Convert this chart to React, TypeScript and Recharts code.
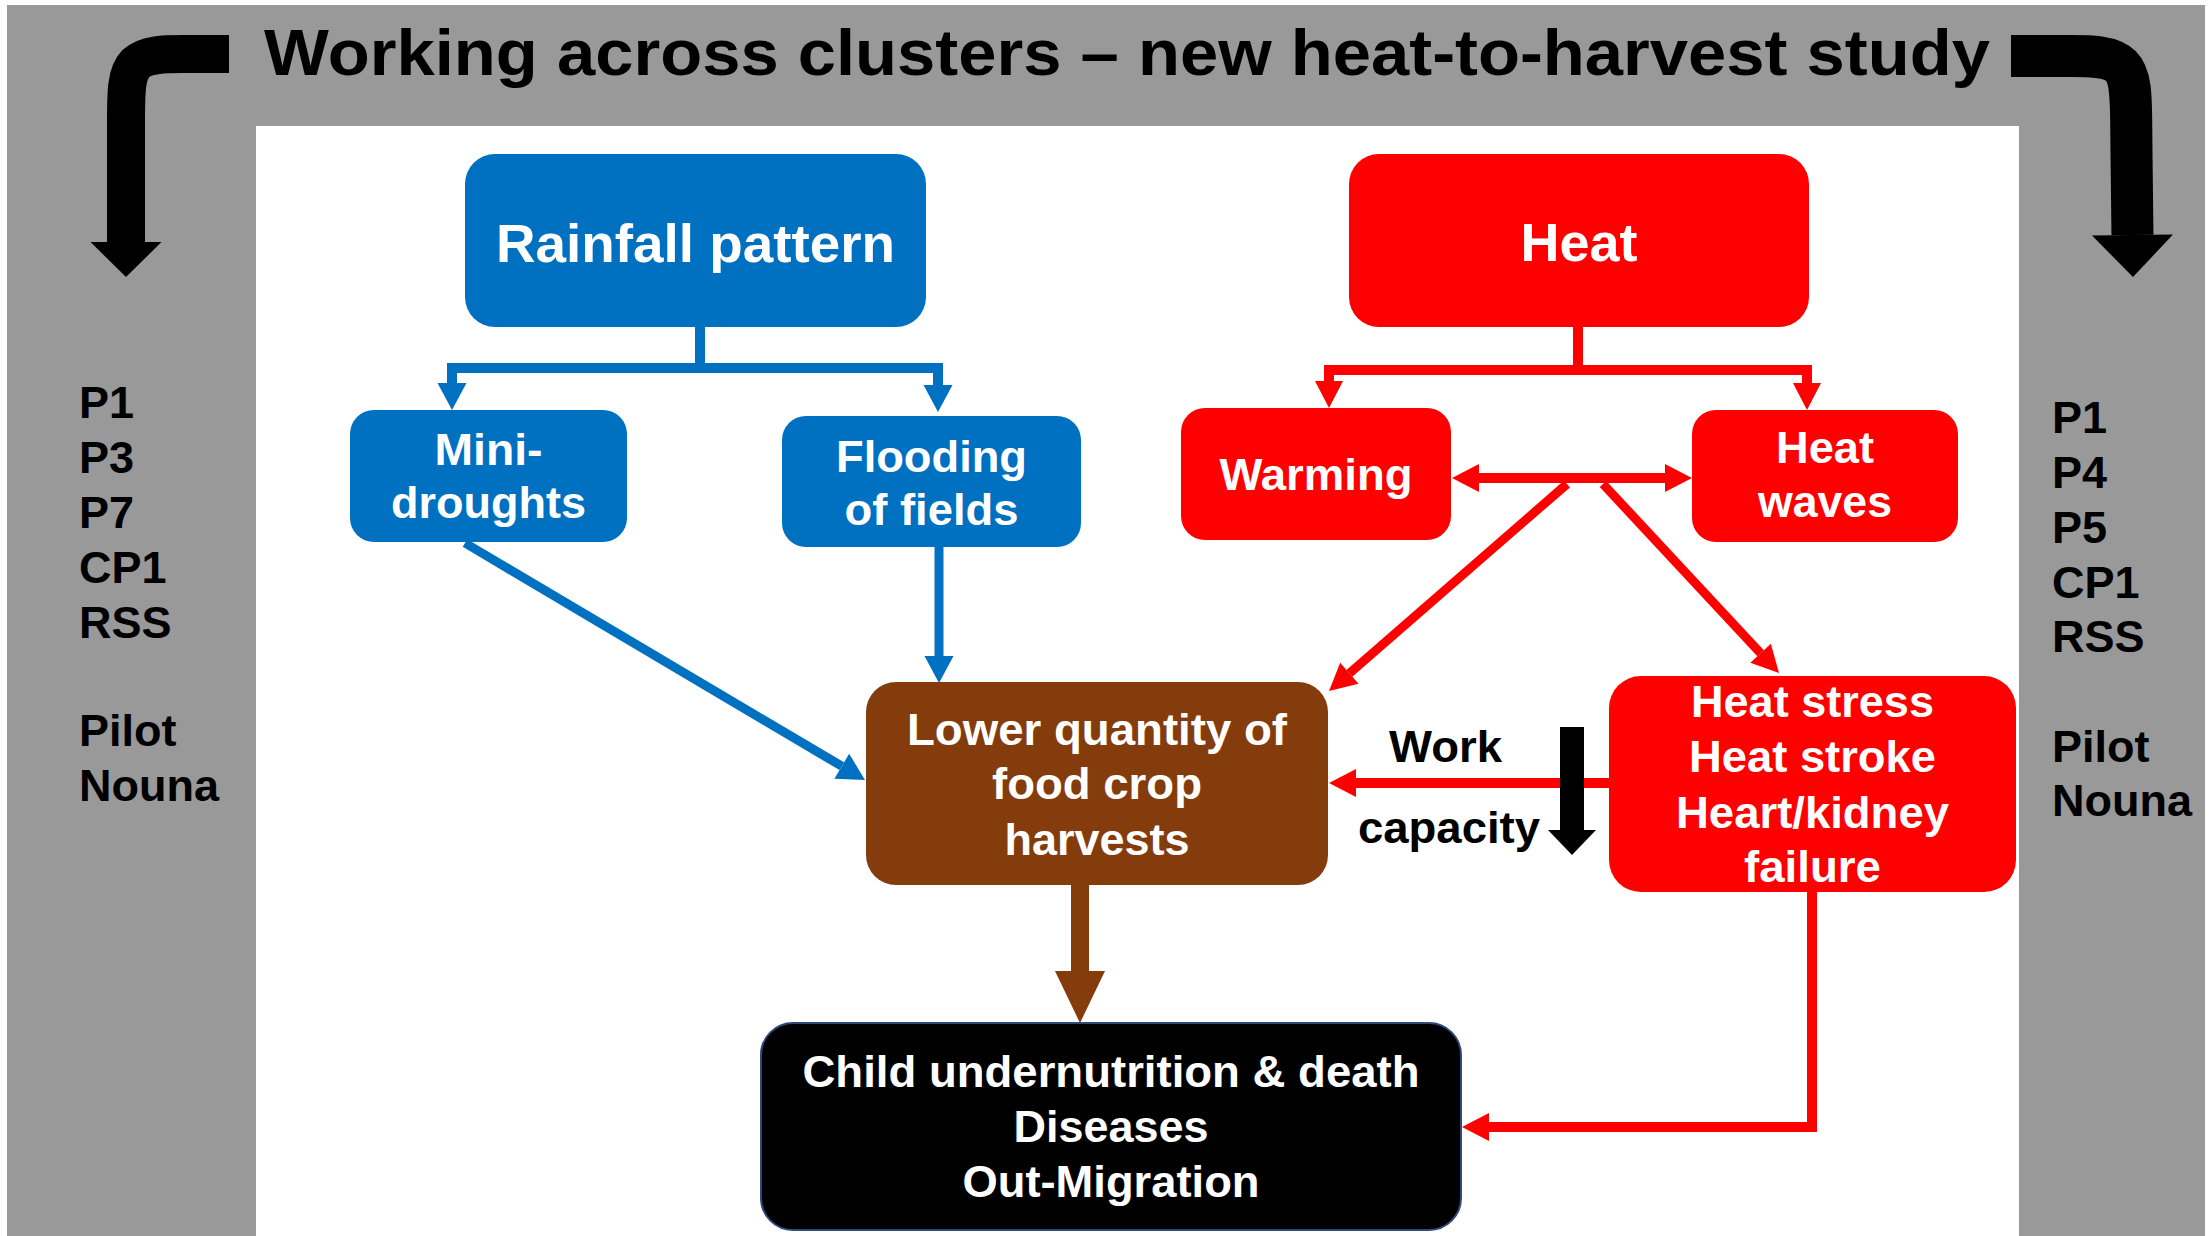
import React from 'react';
import { ComposedChart, XAxis, YAxis, ReferenceArea, Line, Scatter } from 'recharts';

const W = 2211;
const H = 1236;

// ---- frame (slide background + white panel), diagram units = px ----
const frameIds = ['slide', 'panel'];
const frameX1 = [7, 256];
const frameX2 = [2205, 2019];
const frameY1 = [5, 126];
const frameY2 = [1236, 1236];

// ---- nodes ----
const nodeIds = ['rain', 'heat', 'drought', 'flood', 'warming', 'waves', 'harvest', 'stress', 'outcome'];
const nodeX1 = [465, 1349, 350, 782, 1181, 1692, 866, 1609, 761];
const nodeX2 = [926, 1809, 627, 1081, 1451, 1958, 1328, 2016, 1461];
const nodeY1 = [154, 154, 410, 416, 408, 410, 682, 676, 1023];
const nodeY2 = [327, 327, 542, 547, 540, 542, 885, 892, 1230];
const nodeLines: string[][] = [
  ['Rainfall pattern'],
  ['Heat'],
  ['Mini-', 'droughts'],
  ['Flooding', 'of fields'],
  ['Warming'],
  ['Heat', 'waves'],
  ['Lower quantity of', 'food crop', 'harvests'],
  ['Heat stress', 'Heat stroke', 'Heart/kidney', 'failure'],
  ['Child undernutrition & death', 'Diseases', 'Out-Migration'],
];
const nodeBaselines: number[][] = [
  [262],
  [261],
  [465, 518],
  [472, 525],
  [490],
  [463, 517],
  [745, 799, 855],
  [717, 772, 828, 882],
  [1087, 1142, 1197],
];
const nodeTextWidths: number[][] = [
  [399],
  [117],
  [108, 195],
  [191, 174],
  [193],
  [98, 134],
  [380, 210, 185],
  [243, 247, 273, 137],
  [617, 195, 297],
];

// ---- side labels ----
const sideLeft = ['P1', 'P3', 'P7', 'CP1', 'RSS', 'Pilot', 'Nouna'];
const sideLeftX = 79;
const sideLeftBaselines = [418, 473, 528, 583, 638, 746, 801];
const sideRight = ['P1', 'P4', 'P5', 'CP1', 'RSS', 'Pilot', 'Nouna'];
const sideRightX = 2052;
const sideRightBaselines = [433, 488, 543, 598, 652, 762, 816];

// ---- title & annotation ----
const titleText = 'Working across clusters – new heat-to-harvest study';
const titleX = 264;
const titleY = 75;
const titleWidth = 1726;
const annotText = ['Work', 'capacity'];
const annotX = [1389, 1358];
const annotY = [762, 843];
const annotWidth = [113, 182];

// ---- connectors (points in diagram units, last point = arrow tip) ----
type Edge = { kind: string; pts: [number, number][]; start?: boolean; end?: boolean; curve?: 'linear' | 'basis' };
const edges: Edge[] = [
  { kind: 'blue', pts: [[700, 327], [700, 368], [452, 368], [452, 410]], end: true },
  { kind: 'blue', pts: [[700, 368], [938, 368], [938, 412]], end: true },
  { kind: 'blueThin', pts: [[939, 547], [939, 683]], end: true },
  { kind: 'blueThin', pts: [[465, 543], [865, 780]], end: true },
  { kind: 'red', pts: [[1578, 327], [1578, 370], [1329, 370], [1329, 408]], end: true },
  { kind: 'red', pts: [[1578, 370], [1807, 370], [1807, 410]], end: true },
  { kind: 'red', pts: [[1452, 478], [1692, 478]], start: true, end: true },
  { kind: 'redThin', pts: [[1567, 484], [1329, 691]], end: true },
  { kind: 'redThin', pts: [[1603, 484], [1779, 673]], end: true },
  { kind: 'red', pts: [[1609, 783], [1329, 783]], end: true },
  { kind: 'red', pts: [[1812, 892], [1812, 1127], [1462, 1127]], end: true },
  { kind: 'brown', pts: [[1080, 885], [1080, 1023]], end: true },
  { kind: 'black', pts: [[1572, 727], [1572, 855]], end: true },
  { kind: 'bentL', pts: [[229, 54], [185, 54], [126, 54], [126, 112], [126, 277]], end: true, curve: 'basis' },
  { kind: 'bentR', pts: [[2011, 56], [2070, 56], [2131, 56], [2131, 116], [2133, 277]], end: true, curve: 'basis' },
];

// ---- styles ----
const FONT = '"Liberation Sans", Arial, Helvetica, sans-serif';
const frameFill: Record<string, string> = { slide: '#999999', panel: '#ffffff' };
const nodeFill: Record<string, string> = {
  rain: '#0070C0', drought: '#0070C0', flood: '#0070C0',
  heat: '#FF0000', warming: '#FF0000', waves: '#FF0000', stress: '#FF0000',
  harvest: '#843C0C', outcome: '#000000',
};
const nodeRadius: Record<string, number> = {
  rain: 30, heat: 30, drought: 24, flood: 24, warming: 24, waves: 24, harvest: 30, stress: 32, outcome: 32,
};
const nodeFont: Record<string, number> = { rain: 53, heat: 53 };
const edgeStyle: Record<string, { color: string; width: number; len: number; w: number }> = {
  blue: { color: '#0070C0', width: 10, len: 27, w: 29 },
  blueThin: { color: '#0070C0', width: 9, len: 27, w: 29 },
  red: { color: '#FF0000', width: 10, len: 27, w: 28 },
  redThin: { color: '#FF0000', width: 9, len: 27, w: 28 },
  brown: { color: '#843C0C', width: 18, len: 52, w: 50 },
  black: { color: '#000000', width: 24, len: 25, w: 48 },
  bentL: { color: '#000000', width: 38, len: 35, w: 71 },
  bentR: { color: '#000000', width: 42, len: 42, w: 81 },
};

// ---- derived series ----
type Head = { x: number; y: number; angle: number; len: number; w: number; color: string };
const heads: Head[] = [];
const edgeSeries = edges.map((e) => {
  const st = edgeStyle[e.kind];
  const pts = e.pts.map((p) => [p[0], p[1]] as [number, number]);
  const shorten = (tipIdx: number, prevIdx: number) => {
    const [tx, ty] = pts[tipIdx];
    const [px, py] = pts[prevIdx];
    const a = Math.atan2(ty - py, tx - px);
    heads.push({ x: tx, y: ty, angle: a, len: st.len, w: st.w, color: st.color });
    pts[tipIdx] = [tx - st.len * Math.cos(a), ty - st.len * Math.sin(a)];
  };
  if (e.end) shorten(pts.length - 1, pts.length - 2);
  if (e.start) shorten(0, 1);
  return { ...e, st, data: pts.map(([x, y]) => ({ x, y })) };
});

type Label = { x: number; y: number; text: string; size: number; color: string; anchor: string; w: number };
const labels: Label[] = [];
labels.push({ x: titleX, y: titleY, text: titleText, size: 64, color: '#000', anchor: 'start', w: titleWidth });
nodeIds.forEach((id, i) => {
  const cx = (nodeX1[i] + nodeX2[i]) / 2;
  nodeLines[i].forEach((t, j) => {
    labels.push({ x: cx, y: nodeBaselines[i][j], text: t, size: nodeFont[id] ?? 45, color: '#fff', anchor: 'middle', w: nodeTextWidths[i][j] });
  });
});
sideLeft.forEach((t, i) => labels.push({ x: sideLeftX, y: sideLeftBaselines[i], text: t, size: 45, color: '#000', anchor: 'start', w: 0 }));
sideRight.forEach((t, i) => labels.push({ x: sideRightX, y: sideRightBaselines[i], text: t, size: 45, color: '#000', anchor: 'start', w: 0 }));
annotText.forEach((t, i) => labels.push({ x: annotX[i], y: annotY[i], text: t, size: 45, color: '#000', anchor: 'start', w: annotWidth[i] }));

const rectShape = (fill: string, r: number, stroke?: string) => (p: any) => (
  <rect x={p.x} y={p.y} width={p.width} height={p.height} rx={r} ry={r} fill={fill} stroke={stroke ?? 'none'} strokeWidth={stroke ? 2 : 0} />
);

const headShape = (p: any) => {
  const d: Head = p.payload;
  const c = Math.cos(d.angle);
  const s = Math.sin(d.angle);
  const bx = p.cx - d.len * c;
  const by = p.cy - d.len * s;
  const nx = -s * (d.w / 2);
  const ny = c * (d.w / 2);
  const pts = `${p.cx},${p.cy} ${bx + nx},${by + ny} ${bx - nx},${by - ny}`;
  return <polygon points={pts} fill={d.color} />;
};

const textShape = (p: any) => {
  const d: Label = p.payload;
  const extra: any = d.w ? { textLength: d.w, lengthAdjust: 'spacingAndGlyphs' } : {};
  return (
    <text x={p.cx} y={p.cy} textAnchor={d.anchor as any} fontSize={d.size} fontWeight="bold" fontFamily={FONT} fill={d.color} {...extra}>
      {d.text}
    </text>
  );
};

export default function App() {
  return (
    <div style={{ position: 'absolute', left: 0, top: 0, width: W, height: H, background: '#fff' }}>
      <ComposedChart width={W} height={H} margin={{ top: 0, right: 0, bottom: 0, left: 0 }}>
        <XAxis type="number" dataKey="x" domain={[0, W]} hide allowDataOverflow />
        <YAxis type="number" dataKey="y" domain={[0, H]} reversed hide allowDataOverflow />
        {frameIds.map((id, i) => (
          <ReferenceArea key={id} x1={frameX1[i]} x2={frameX2[i]} y1={frameY1[i]} y2={frameY2[i]} ifOverflow="visible" shape={rectShape(frameFill[id], 0)} />
        ))}
        {nodeIds.map((id, i) => (
          <ReferenceArea
            key={id}
            x1={nodeX1[i]}
            x2={nodeX2[i]}
            y1={nodeY1[i]}
            y2={nodeY2[i]}
            ifOverflow="visible"
            shape={rectShape(nodeFill[id], nodeRadius[id], id === 'outcome' ? '#2F4A7A' : undefined)}
          />
        ))}
        {edgeSeries.map((e, i) => (
          <Line
            key={`edge-${i}`}
            data={e.data}
            dataKey="y"
            type={e.curve ?? 'linear'}
            stroke={e.st.color}
            strokeWidth={e.st.width}
            strokeLinejoin="miter"
            strokeLinecap="butt"
            dot={false}
            activeDot={false}
            legendType="none"
            isAnimationActive={false}
          />
        ))}
        <Scatter data={heads} dataKey="y" shape={headShape} isAnimationActive={false} legendType="none" />
        <Scatter data={labels} dataKey="y" shape={textShape} isAnimationActive={false} legendType="none" />
      </ComposedChart>
    </div>
  );
}
